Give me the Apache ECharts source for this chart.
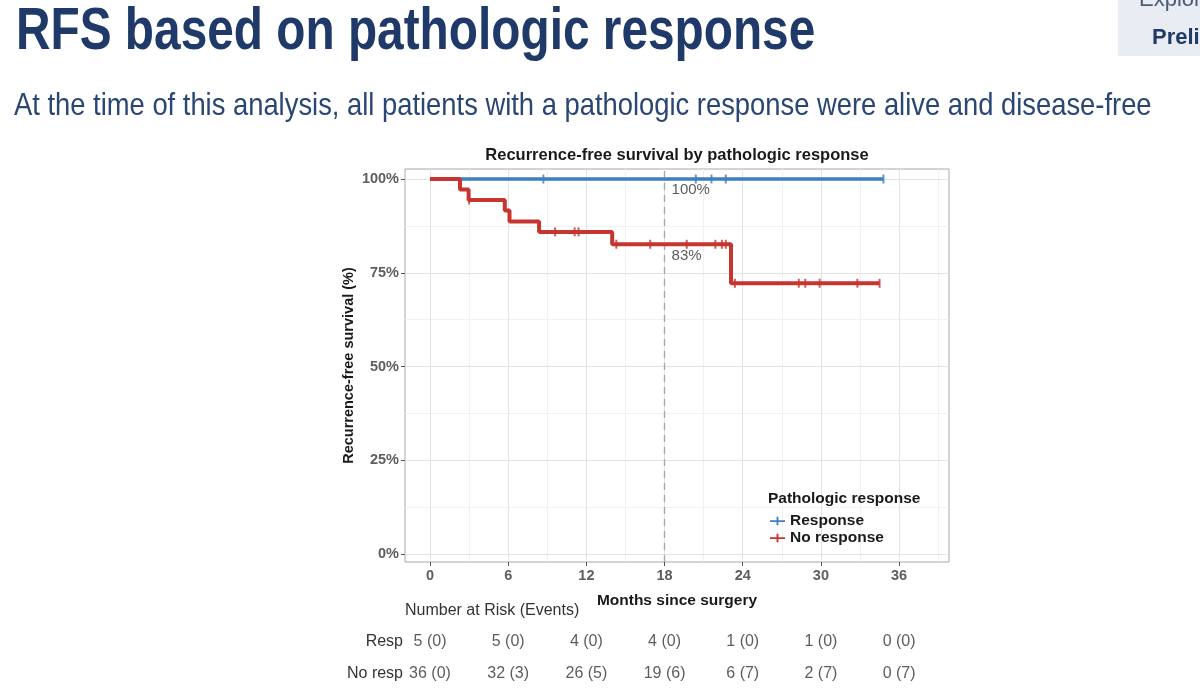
<!DOCTYPE html>
<html>
<head>
<meta charset="utf-8">
<title>RFS based on pathologic response</title>
<script src="https://cdn.jsdelivr.net/npm/echarts@6/dist/echarts.min.js"></script>
<style>
  html, body { margin: 0; padding: 0; background: #fff; }
  #chart { width: 1200px; height: 692px; }
</style>
</head>
<body>
<div id="chart"></div>
<script>
// Kaplan-Meier steps (months, % recurrence-free)
const respTimes = [0, 34.8]
const respSurv = [100, 100]
const respCensor = [8.7, 20.4, 21.6, 22.7, 34.8]

const noRespTimes = [0, 2.3, 2.96, 5.74, 6.1, 8.37, 13.98, 23.1, 34.5]
const noRespSurv = [100, 97.2, 94.4, 91.6, 88.7, 85.9, 82.6, 72.2, 72.2]
const noRespCensor = [3.0, 9.6, 11.1, 11.4, 14.3, 16.9, 19.7, 21.9, 22.4, 22.7, 23.4, 28.3, 28.8, 29.9, 32.8, 34.5]

const xTicks = [0, 6, 12, 18, 24, 30, 36]
const xMinor = [3, 9, 15, 21, 27, 33, 39]
const yTicks = [0, 25, 50, 75, 100]
const yMinor = [12.5, 37.5, 62.5, 87.5]

// 18 month landmark
const landmarkMonth = 18
const landmarkLabels = ['100%', '83%']
const landmarkLabelY = [97.1, 79.5]

// number at risk (events)
const riskTimes = [0, 6, 12, 18, 24, 30, 36]
const respAtRisk = [5, 5, 4, 4, 1, 1, 0]
const respEvents = [0, 0, 0, 0, 0, 0, 0]
const noRespAtRisk = [36, 32, 26, 19, 6, 2, 0]
const noRespEvents = [0, 3, 5, 6, 7, 7, 7]
const riskRows = ['No resp', 'Resp']

const BLUE = '#3f7fbf'
const RED = '#c6352f'
const NAVY = '#1f3a68'

// value of the step curve at time t (for placing censor marks)
const survAt = (times, surv, t) => {
  let s = surv[0]
  times.forEach((tt, i) => { if (tt <= t) s = surv[i] })
  return s
}

const zip = (a, b) => a.map((v, i) => [v, b[i]])

const chart = echarts.init(document.getElementById('chart'))

const gridLines = [
  ...xMinor.map(v => ({ xAxis: v, lineStyle: { color: '#f1f1f1', width: 1, type: 'solid' } })),
  ...yMinor.map(v => ({ yAxis: v, lineStyle: { color: '#f1f1f1', width: 1, type: 'solid' } })),
  ...xTicks.map(v => ({ xAxis: v, lineStyle: { color: '#e3e3e3', width: 1, type: 'solid' } })),
  ...yTicks.map(v => ({ yAxis: v, lineStyle: { color: '#e3e3e3', width: 1, type: 'solid' } }))
]

const riskData = [
  ...riskTimes.map((t, i) => [t, 1, `${respAtRisk[i]} (${respEvents[i]})`]),
  ...riskTimes.map((t, i) => [t, 0, `${noRespAtRisk[i]} (${noRespEvents[i]})`])
]

const option = {
  animation: false,
  backgroundColor: '#fff',
  graphic: [
    { type: 'rect', shape: { x: 1118, y: 0, width: 82, height: 56 }, style: { fill: '#e9edf3' } },
    { type: 'text', x: 1139, y: 0, style: { text: 'Exploratory', font: '22px "Liberation Sans"', fill: '#4a5a78', textAlign: 'left', textVerticalAlign: 'middle' } },
    { type: 'text', x: 1152, y: 38, style: { text: 'Preliminary', font: 'bold 22px "Liberation Sans"', fill: NAVY, textAlign: 'left', textVerticalAlign: 'middle' } },
    { type: 'text', x: 16, y: 33, scaleX: 0.81, style: { text: 'RFS based on pathologic response', font: 'bold 59px "Liberation Sans"', fill: NAVY, textAlign: 'left', textVerticalAlign: 'middle' } },
    { type: 'text', x: 14, y: 106, scaleX: 0.855, style: { text: 'At the time of this analysis, all patients with a pathologic response were alive and disease-free', font: '32px "Liberation Sans"', fill: '#2a4674', textAlign: 'left', textVerticalAlign: 'middle' } },
    { type: 'text', x: 677, y: 155, style: { text: 'Recurrence-free survival by pathologic response', font: 'bold 16.5px "Liberation Sans"', fill: '#1a1a1a', textAlign: 'center', textVerticalAlign: 'middle' } },
    { type: 'text', x: 768, y: 499, z: 100, style: { text: 'Pathologic response', font: 'bold 15.5px "Liberation Sans"', fill: '#1a1a1a', textAlign: 'left', textVerticalAlign: 'middle' } },
    { type: 'text', x: 405, y: 611, style: { text: 'Number at Risk (Events)', font: '16px "Liberation Sans"', fill: '#333', textAlign: 'left', textVerticalAlign: 'middle' } }
  ],
  legend: {
    data: ['Response', 'No response'],
    orient: 'vertical',
    left: 765,
    top: 508,
    itemWidth: 15,
    itemHeight: 9,
    itemGap: 1,
    icon: 'path://M0,3.6h16v2h-16z M7,0h2v9h-2z',
    textStyle: { fontFamily: 'Liberation Sans', fontWeight: 'bold', fontSize: 15.5, color: '#1a1a1a' }
  },
  grid: [
    { left: 405, top: 169, width: 544, height: 393, show: true, borderColor: '#a8a8a8', borderWidth: 1, backgroundColor: '#fff' },
    { left: 405, top: 626, width: 544, height: 64 }
  ],
  xAxis: [
    {
      type: 'value', gridIndex: 0, min: -1.92, max: 39.83,
      name: 'Months since surgery', nameLocation: 'middle', nameGap: 31,
      nameTextStyle: { fontFamily: 'Liberation Sans', fontWeight: 'bold', fontSize: 15.5, color: '#1a1a1a' },
      axisLine: { show: false, onZero: false },
      axisTick: { show: true, customValues: xTicks, length: 4, lineStyle: { color: '#555', width: 1 } },
      axisLabel: { customValues: xTicks, fontFamily: 'Liberation Sans', fontWeight: 'bold', fontSize: 14.5, color: '#5e5e5e', margin: 6 },
      splitLine: { show: false }
    },
    { type: 'value', gridIndex: 1, min: -1.92, max: 39.83, show: false }
  ],
  yAxis: [
    {
      type: 'value', gridIndex: 0, min: -2.13, max: 102.67,
      name: 'Recurrence-free survival (%)', nameLocation: 'middle', nameGap: 49,
      nameTextStyle: { fontFamily: 'Liberation Sans', fontWeight: 'bold', fontSize: 14.5, color: '#1a1a1a' },
      axisLine: { show: false, onZero: false },
      axisTick: { show: true, customValues: yTicks, length: 4, lineStyle: { color: '#555', width: 1 } },
      axisLabel: { customValues: yTicks, formatter: v => v + '%', fontFamily: 'Liberation Sans', fontWeight: 'bold', fontSize: 14.5, color: '#5e5e5e', margin: 6 },
      splitLine: { show: false }
    },
    {
      type: 'category', gridIndex: 1, data: riskRows,
      axisLine: { show: false }, axisTick: { show: false },
      axisLabel: { fontFamily: 'Liberation Sans', fontSize: 16, color: '#333', margin: 2 }
    }
  ],
  series: [
    {
      name: 'Response', type: 'line', step: 'end', z: 3,
      data: zip(respTimes, respSurv), showSymbol: false, symbol: 'none',
      lineStyle: { color: BLUE, width: 3.5 }, itemStyle: { color: BLUE },
      markLine: {
        silent: true, symbol: 'none', z: 1, label: { show: false },
        data: gridLines
      }
    },
    {
      name: 'Response censor', type: 'scatter', z: 3,
      data: respCensor.map(t => [t, survAt(respTimes, respSurv, t)]),
      symbol: 'rect', symbolSize: [2, 9], itemStyle: { color: BLUE }
    },
    {
      name: 'No response', type: 'line', step: 'end', z: 4,
      data: zip(noRespTimes, noRespSurv), showSymbol: false, symbol: 'none',
      lineStyle: { color: RED, width: 4 }, itemStyle: { color: RED },
      markLine: {
        silent: true, symbol: 'none', z: 2, label: { show: false },
        data: [{ xAxis: landmarkMonth, lineStyle: { color: '#a8a8a8', width: 1.4, type: [7, 5] } }]
      }
    },
    {
      name: 'No response censor', type: 'scatter', z: 4,
      data: noRespCensor.map(t => [t, survAt(noRespTimes, noRespSurv, t)]),
      symbol: 'rect', symbolSize: [2, 9], itemStyle: { color: RED }
    },
    {
      name: 'landmark labels', type: 'scatter', z: 5, silent: true,
      data: landmarkLabels.map((s, i) => [landmarkMonth + 0.5, landmarkLabelY[i], s]),
      symbolSize: 1, itemStyle: { color: 'rgba(0,0,0,0)' },
      label: { show: true, position: 'right', distance: 0, formatter: p => p.value[2], fontFamily: 'Liberation Sans', fontSize: 15, color: '#333' }
    },
    {
      name: 'risk table', type: 'scatter', xAxisIndex: 1, yAxisIndex: 1, silent: true,
      data: riskData, symbolSize: 1, itemStyle: { color: 'rgba(0,0,0,0)' },
      label: { show: true, position: 'inside', formatter: p => p.value[2], fontFamily: 'Liberation Sans', fontSize: 16, color: '#333' }
    }
  ]
}

chart.setOption(option)
</script>
</body>
</html>
